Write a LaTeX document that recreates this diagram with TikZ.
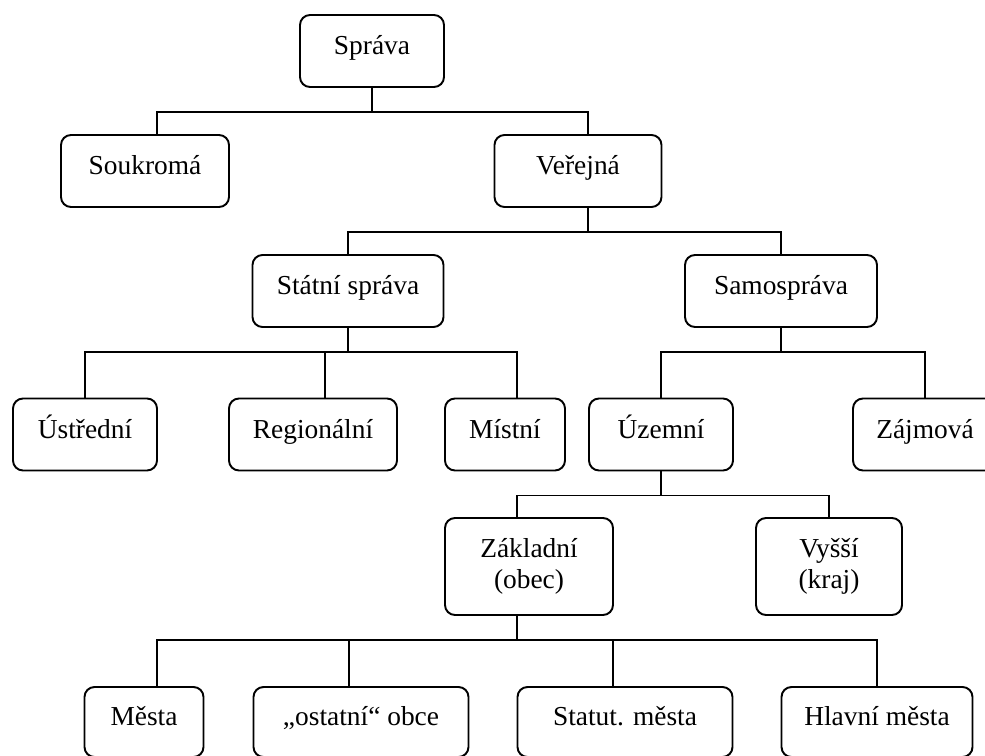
\documentclass[tikz,border=0pt]{standalone}
\usepackage{fontspec}
\setmainfont{Liberation Serif}
\usetikzlibrary{positioning, calc}

\begin{document}
\begin{tikzpicture}[
    every node/.style={font=\fontsize{15.6}{17.5}\selectfont},
    unit/.style={draw, rounded corners=0.2cm, line width=1.1pt,
                minimum width=2.88cm, minimum height=1.44cm, inner sep=0pt,
                text height=0.72em, text depth=0.30em},
    twoline/.style={unit, align=center, minimum height=1.94cm,
                text height=, text depth=},
    link/.style={line width=1.1pt}
]
\useasboundingbox (0,0) rectangle (19.7,-15.1);
% Root
\node[unit] (sprava) at (7.44, -1.02) {Správa};
% Level 1
\node[unit, minimum width=3.36cm] (soukroma) at ( 2.90, -3.42) {Soukromá};
\node[unit, minimum width=3.34cm] (verejna)  at (11.56, -3.42) {Veřejná};
% Level 2
\node[unit, minimum width=3.82cm] (statni)  at ( 6.96, -5.82) {Státní správa};
\node[unit, minimum width=3.84cm] (samosp)  at (15.62, -5.82) {Samospráva};
% Level 3
\node[unit] (ustredni) at ( 1.70, -8.69) {Ústřední};
\node[unit, minimum width=3.36cm] (region) at ( 6.26, -8.69) {Regionální};
\node[unit, minimum width=2.40cm] (mistni) at (10.10, -8.69) {Místní};
\node[unit] (uzemni)   at (13.22, -8.69) {Územní};
\node[unit] (zajmova)  at (18.50, -8.69) {Zájmová};
% Level 4
\node[twoline, minimum width=3.36cm] (zakladni) at (10.58, -11.33) {Základní\\(obec)};
\node[twoline, minimum width=2.92cm] (vyssi)    at (16.58, -11.33) {Vyšší\\(kraj)};
% Level 5 leaves
\node[unit, minimum width=2.38cm, minimum height=1.40cm] (mesta)   at ( 2.88, -14.44) {Města};
\node[unit, minimum width=4.30cm, minimum height=1.40cm] (ostatni) at ( 7.22, -14.44) {„ostatní“ obce};
\node[unit, minimum width=4.30cm, minimum height=1.40cm] (statut)  at (12.50, -14.44) {Statut. města};
\node[unit, minimum width=3.82cm, minimum height=1.40cm] (hlavni)  at (17.54, -14.44) {Hlavní města};
% Edges
\draw[link] (sprava.south) -- ++(0,-0.48) -| ([xshift=0.24cm]soukroma.north);
\draw[link] (sprava.south) -- ++(0,-0.48) -| ([xshift=0.20cm]verejna.north);
\draw[link] ([xshift=0.20cm]verejna.south) -- ++(0,-0.48) -| (statni.north);
\draw[link] ([xshift=0.20cm]verejna.south) -- ++(0,-0.48) -| (samosp.north);
\draw[link] (statni.south) -- ++(0,-0.48) -| (ustredni.north);
\draw[link] (statni.south) -- ++(0,-0.48) -| ([xshift=0.24cm]region.north);
\draw[link] (statni.south) -- ++(0,-0.48) -| ([xshift=0.24cm]mistni.north);
\draw[link] (samosp.south) -- ++(0,-0.48) -| (uzemni.north);
\draw[link] (samosp.south) -- ++(0,-0.48) -| (zajmova.north);
\draw[link] (uzemni.south) -- ++(0,-0.48) -| ([xshift=-0.24cm]zakladni.north);
\draw[link] (uzemni.south) -- ++(0,-0.48) -| (vyssi.north);
\draw[link] ([xshift=-0.24cm]zakladni.south) -- ++(0,-0.48) -| ([xshift=0.26cm]mesta.north);
\draw[link] ([xshift=-0.24cm]zakladni.south) -- ++(0,-0.48) -| ([xshift=-0.24cm]ostatni.north);
\draw[link] ([xshift=-0.24cm]zakladni.south) -- ++(0,-0.48) -| ([xshift=-0.24cm]statut.north);
\draw[link] ([xshift=-0.24cm]zakladni.south) -- ++(0,-0.48) -| (hlavni.north);
\end{tikzpicture}
\end{document}
